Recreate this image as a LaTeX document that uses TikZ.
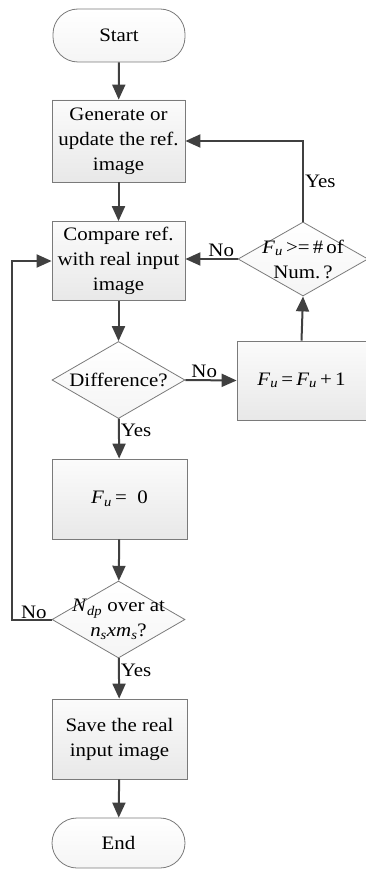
\documentclass[tikz,border=0pt]{standalone}
\usepackage{fontspec}
\setmainfont[FakeStretch=1.1]{Liberation Serif}
\usetikzlibrary{arrows.meta,shapes.geometric,calc}
\definecolor{arrowc}{HTML}{404040}
\definecolor{borderc}{HTML}{7A7A7A}
\newcommand{\Fu}{\textit{F}\textsubscript{\textit{u}}}
\begin{document}
\begin{tikzpicture}[x=1pt,y=-1pt,
  every node/.style={font=\fontsize{19}{25}\selectfont},
  term/.style={draw=borderc,line width=0.8pt,rectangle,rounded corners=25pt,
    top color=white,bottom color=gray!8,align=center,inner sep=0pt},
  procbox/.style={draw=borderc,line width=0.8pt,rectangle,
    top color=gray!3,bottom color=gray!18,align=center,inner sep=0pt},
  decbox/.style={draw=borderc,line width=0.8pt,diamond,
    top color=white,bottom color=gray!8,inner sep=0pt},
  dtext/.style={align=center,inner sep=0pt},
  lbl/.style={inner sep=1pt},
  conn/.style={draw=arrowc,line width=2pt,-{Triangle[length=15pt,width=13pt]}},
  plain/.style={draw=arrowc,line width=2pt}
]
\useasboundingbox (0,0) rectangle (366,869);

\node[term,minimum width=132pt,minimum height=53pt] (start) at (119,35.5) {Start};
\node[procbox,minimum width=133pt,minimum height=82pt] (gen) at (118.5,141) {Generate or\\update the ref.\\image};
\node[procbox,minimum width=133pt,minimum height=79pt] (cmp) at (118.5,261) {Compare ref.\\with real input\\image};
\node[decbox,minimum width=130pt,minimum height=74pt] (dec1) at (303,259) {};
\node[dtext] (dec1t) at (dec1) {\Fu\,>=\,\#\,of\\Num.\,?};
\node[decbox,minimum width=133pt,minimum height=77pt] (diff) at (118.5,380) {};
\node[dtext] (difft) at (diff) {Difference?};
\node[procbox,minimum width=129pt,minimum height=79pt] (inc) at (301.5,380.5) {\Fu\,=\,\Fu\,+\,1};
\node[procbox,minimum width=135pt,minimum height=80pt] (zero) at (119.5,499) {\Fu\,=\ \ 0};
\node[decbox,minimum width=133pt,minimum height=77pt] (ndp) at (118.5,619.5) {};
\node[dtext] (ndpt) at (ndp) {\textit{N}\textsubscript{\textit{dp}} over at\\\textit{n}\textsubscript{\textit{s}}\textit{xm}\textsubscript{\textit{s}}?};
\node[procbox,minimum width=135pt,minimum height=80pt] (save) at (119.5,739) {Save the real\\input image};
\node[term,minimum width=133pt,minimum height=50pt] (end) at (118.5,843) {End};

\draw[conn] (start) -- (gen);
\draw[conn] (gen) -- (cmp);
\draw[conn] (cmp) -- (diff);
\draw[conn] (diff) -- (zero) node[lbl,pos=0.3,anchor=west] (y1) {Yes};
\draw[conn] (zero) -- (ndp);
\draw[conn] (ndp) -- (save) node[lbl,pos=0.3,anchor=west] (y2) {Yes};
\draw[conn] (save) -- (end);
\draw[conn] (diff.east) -- (inc.west) node[lbl,pos=0.08,anchor=south west] (n1) {No};
\draw[conn] (inc.north) -- (dec1.south);
\draw[conn] (dec1.north) |- (gen.east) node[lbl,pos=0.25,anchor=west] (y3) {Yes};
\draw[conn] (dec1.west) -- (dec1.west -| cmp.east) node[lbl,pos=0.03,anchor=south east] (n2) {No};
\coordinate (lft) at (12,619.5);
\draw[conn] (ndp.west) -- (lft) |- (cmp.west);
\node[lbl,anchor=south] (n3) at ($(ndp.west)!0.45!(lft)$) {No};
\end{tikzpicture}
\end{document}
